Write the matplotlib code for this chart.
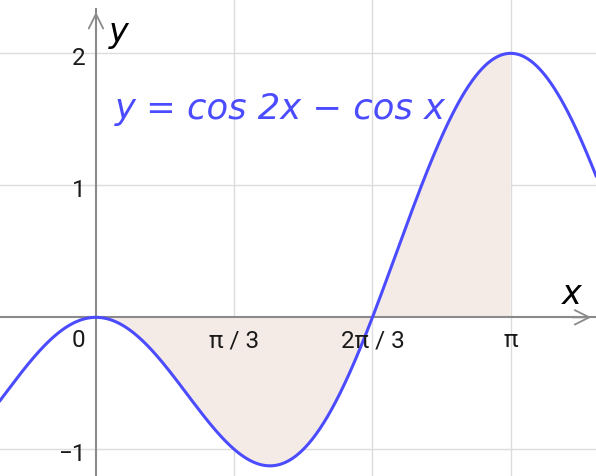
import numpy as np
import matplotlib.pyplot as plt

# tick positions and labels
x_ticks = [np.pi / 3, 2 * np.pi / 3, np.pi]
x_tick_labels = ['π / 3', '2π / 3', 'π']
y_ticks = [-1, 1, 2]
y_tick_labels = ['−1', '1', '2']

# view window (equal scale on both axes)
x_min, x_max = -0.727, 3.788
y_min, y_max = -1.202, 2.404

# curve y = cos 2x - cos x, shaded between 0 and pi
shade_from, shade_to = 0, np.pi
xs = np.linspace(x_min, x_max, 800)
ys = np.cos(2 * xs) - np.cos(xs)

fig = plt.figure(figsize=(5.96, 4.76), dpi=100)
ax = fig.add_axes([0, 0, 1, 1])
ax.set_xlim(x_min, x_max)
ax.set_ylim(y_min, y_max)
ax.axis('off')

grid_col = '#dcdcdc'
for xv in x_ticks:
    ax.axvline(xv, color=grid_col, lw=1, zorder=0)
for yv in y_ticks:
    ax.axhline(yv, color=grid_col, lw=1, zorder=0)

# axes with open arrow heads
axis_col = '#8a8a8a'
ax.plot([x_min, x_max], [0, 0], color=axis_col, lw=1.5, zorder=1)
ax.plot([0, 0], [y_min, y_max - 0.07], color=axis_col, lw=1.5, zorder=1)
arrow = dict(arrowstyle='->', color=axis_col, lw=1.3, mutation_scale=26)
ax.annotate('', xy=(x_max - 0.015, 0), xytext=(x_max - 0.2, 0),
            arrowprops=arrow, zorder=1)
ax.annotate('', xy=(0, y_max - 0.07), xytext=(0, y_max - 0.25),
            arrowprops=arrow, zorder=1)

mask = (xs >= shade_from) & (xs <= shade_to)
ax.fill_between(xs[mask], ys[mask], 0, color='#f5ebe6', lw=0, zorder=0.5)
ax.plot(xs, ys, color='#4b4bff', lw=2.2, zorder=3)

# tick labels
tick_font = dict(fontsize=17.5, color='#1a1a1a', family='Roboto')
for xv, lab in zip(x_ticks, x_tick_labels):
    ax.text(xv, -0.09, lab, ha='center', va='top', **tick_font)
ax.text(-0.08, -0.09, '0', ha='right', va='top', **tick_font)
for yv, lab in zip(y_ticks, y_tick_labels):
    ax.text(-0.08, yv - 0.04, lab, ha='right', va='center', **tick_font)

# axis names
ax.text(0.1, 2.03, 'y', fontsize=24, style='italic', ha='left',
        va='bottom', color='black')
ax.text(3.53, 0.05, 'x', fontsize=24, style='italic', ha='left',
        va='bottom', color='black')

ax.text(0.14, 1.58, 'y = cos 2x − cos x', fontsize=25.5, style='italic',
        color='#4b4bff', ha='left', va='center')

fig.savefig('out.png', dpi=100)
